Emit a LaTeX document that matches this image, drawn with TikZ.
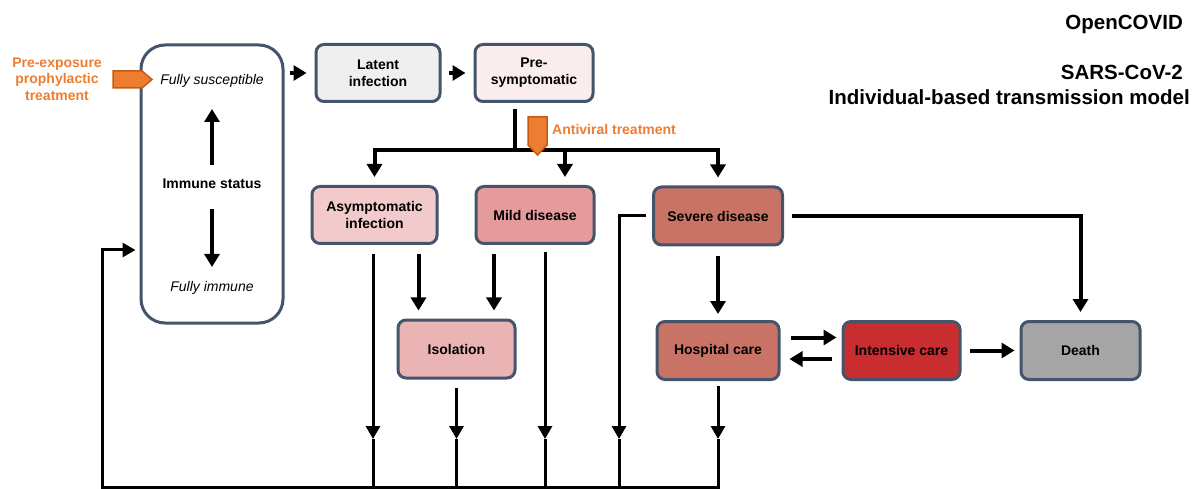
\documentclass[tikz,border=0pt]{standalone}
\usepackage{fontspec}
\setmainfont{Liberation Sans}
\usetikzlibrary{arrows.meta,calc,positioning}

\definecolor{boxline}{HTML}{44546A}
\definecolor{latentfill}{HTML}{EFEFEF}
\definecolor{presymfill}{HTML}{FAEDED}
\definecolor{asymfill}{HTML}{F3CACB}
\definecolor{mildfill}{HTML}{E59A9B}
\definecolor{isolfill}{HTML}{EAB3B4}
\definecolor{severefill}{HTML}{C87366}
\definecolor{icufill}{HTML}{C92D2F}
\definecolor{deathfill}{HTML}{A5A5A5}
\definecolor{treatorange}{HTML}{ED7D31}
\definecolor{treatedge}{HTML}{C55A11}

\tikzset{
	txt/.style={inner sep=0pt, align=center, font=\fontsize{14}{17}\selectfont\bfseries},
	itl/.style={inner sep=0pt, font=\fontsize{14}{17}\selectfont\itshape},
	box/.style={txt, draw=boxline, line width=3pt, rounded corners=8pt},
	arr/.style={line width=4pt, -{Triangle[length=13pt,width=15pt]}},
	ret/.style={line width=3pt},
	retarr/.style={line width=3pt, -{Triangle[length=13pt,width=14pt]}},
	marker/.style={fill=treatorange, draw=treatedge, line width=1.5pt},
	treat/.style={inner sep=0pt, align=center, text=treatorange, font=\fontsize{14}{16.5}\selectfont\bfseries},
	title/.style={inner sep=0pt, anchor=east, font=\fontsize{20.5}{24}\selectfont\bfseries}
}

\begin{document}
\begin{tikzpicture}[x=1pt, y=-1pt]
			%%%%% START %%%%%
			\useasboundingbox (0, 0) rectangle (1192, 489);
			
			\node[title] (opencovid) at (1183, 24) {OpenCOVID};
			\node[title] (sars) at (1183, 72) {SARS-CoV-2};
			\node[title] (model) at (1190, 97) {Individual-based transmission model};
			
			%%%%% IMMUNE STATUS %%%%%
			\node[box, fill=white, rounded corners=24pt, minimum width=142pt, minimum height=278pt] (immune) at (212, 184) {};
			\node[itl] (susc) at (212, 81) {Fully susceptible};
			\node[txt] (status) at (212, 184) {Immune status};
			\node[itl] (fullimm) at (212, 288) {Fully immune};
			\draw[arr] ($(status)+(0,-19)$) -- ($(susc)+(0,28)$);
			\draw[arr] ($(status)+(0,25)$) -- ($(fullimm)+(0,-21)$);
			
			\node[treat] (prep) at (57, 79) {Pre-exposure\\prophylactic\\treatment};
			\coordinate (preptip) at (152, 79.5);
			\draw[marker] ($(preptip)+(-39,-8.5)$) -- ($(preptip)+(-10,-8.5)$) -- (preptip) -- ($(preptip)+(-10,8.5)$) -- ($(preptip)+(-39,8.5)$) -- cycle;
			
			%%%%% STATES %%%%%
			\node[box, fill=latentfill, minimum width=124pt, minimum height=57pt] (latent) at (378, 73) {Latent\\infection};
			\node[box, fill=presymfill, minimum width=118pt, minimum height=57pt] (presym) at (534, 73) {Pre-\\symptomatic};
			\node[box, fill=asymfill, minimum width=125pt, minimum height=57pt] (asym) at (374.5, 215) {Asymptomatic\\infection};
			\node[box, fill=mildfill, minimum width=118pt, minimum height=57pt] (mild) at (535, 215) {Mild disease};
			\node[box, fill=severefill, minimum width=129pt, minimum height=58pt] (severe) at (718, 216) {Severe disease};
			\node[box, fill=isolfill, minimum width=117pt, minimum height=58pt] (isol) at (456.5, 349) {Isolation};
			\node[box, fill=severefill, minimum width=122pt, minimum height=58pt] (hosp) at (718, 350.5) {Hospital care};
			\node[box, fill=icufill, minimum width=117pt, minimum height=58pt] (icu) at (901.5, 350.5) {Intensive care};
			\node[box, fill=deathfill, minimum width=119pt, minimum height=58pt] (death) at (1080.5, 350.5) {Death};
			
			%%%%% PROGRESSION %%%%%
			\draw[arr, shorten <=5pt, shorten >=8pt] (immune.east |- latent.west) -- (latent.west);
			\draw[arr, shorten <=7pt, shorten >=8pt] (latent.east) -- (presym.west);
			
			\coordinate (fork) at ($(presym.south)+(-19,47)$);
			\coordinate (mildin) at ($(mild.north)+(30,0)$);
			\draw[line width=4pt] ($(presym.south)+(-19,6)$) -- (fork);
			\draw[line width=4pt] (fork -| asym.north) -- (fork -| severe.north);
			\draw[arr, shorten >=8pt] ([yshift=2pt]fork -| asym.north) -- (asym.north);
			\draw[arr, shorten >=8pt] ([yshift=2pt]fork -| mildin) -- (mildin);
			\draw[arr, shorten >=8pt] ([yshift=2pt]fork -| severe.north) -- (severe.north);
			
			\coordinate (avtip) at (537.5, 155);
			\draw[marker] (avtip) -- ($(avtip)+(9.5,-10)$) -- ($(avtip)+(9.5,-38)$) -- ($(avtip)+(-9.5,-38)$) -- ($(avtip)+(-9.5,-10)$) -- cycle;
			\node[treat, anchor=west] (antiviral) at (552, 129) {Antiviral treatment};
			
			\coordinate (asymiso) at ($(asym.south)+(44,9)$);
			\coordinate (mildiso) at ($(mild.south)+(-41,9)$);
			\draw[arr, shorten >=8pt] (asymiso) -- (asymiso |- isol.north);
			\draw[arr, shorten >=8pt] (mildiso) -- (mildiso |- isol.north);
			
			\draw[arr, shorten >=6pt] ($(severe.south)+(0,10)$) -- (hosp.north);
			\draw[arr, shorten >=8pt] ($(severe.east)+(8,0)$) -| (death.north);
			\draw[arr] ($(hosp.east)+(10,-13)$) -- ($(icu.west)+(-5,-13)$);
			\draw[arr] ($(icu.west)+(-10,8.5)$) -- ($(hosp.east)+(9,8.5)$);
			\draw[arr] ($(icu.east)+(8,0)$) -- ($(death.west)+(-5,0)$);
			
			%%%%% RECOVERY %%%%%
			\coordinate (base) at (0, 487);
			\coordinate (mid) at (0, 439);
			\coordinate (asymret) at ($(asym.south)+(-1.5,9)$);
			\coordinate (mildret) at ($(mild.south)+(10,7)$);
			\coordinate (isolret) at ($(isol.south)+(0,8)$);
			\coordinate (sevlane) at ($(severe.west)+(-33,0)$);
			\coordinate (hospret) at ($(hosp.south)+(0,5)$);
			\draw[ret] ($(severe.west)+(-6,0)$) -- ([xshift=-1.5pt]sevlane);
			
			\foreach \s in {asymret, isolret, mildret, sevlane, hospret} {
				\draw[retarr] (\s) -- (\s |- mid);
				\draw[ret] (\s |- mid) -- (\s |- base);
			}
			
			\draw[retarr] ([xshift=1.5pt]hospret |- base) -| ($(immune.west)+(-37,66)$) -- ($(immune.west)+(-4,66)$);
			%%%%% END %%%%%
\end{tikzpicture}
\end{document}
